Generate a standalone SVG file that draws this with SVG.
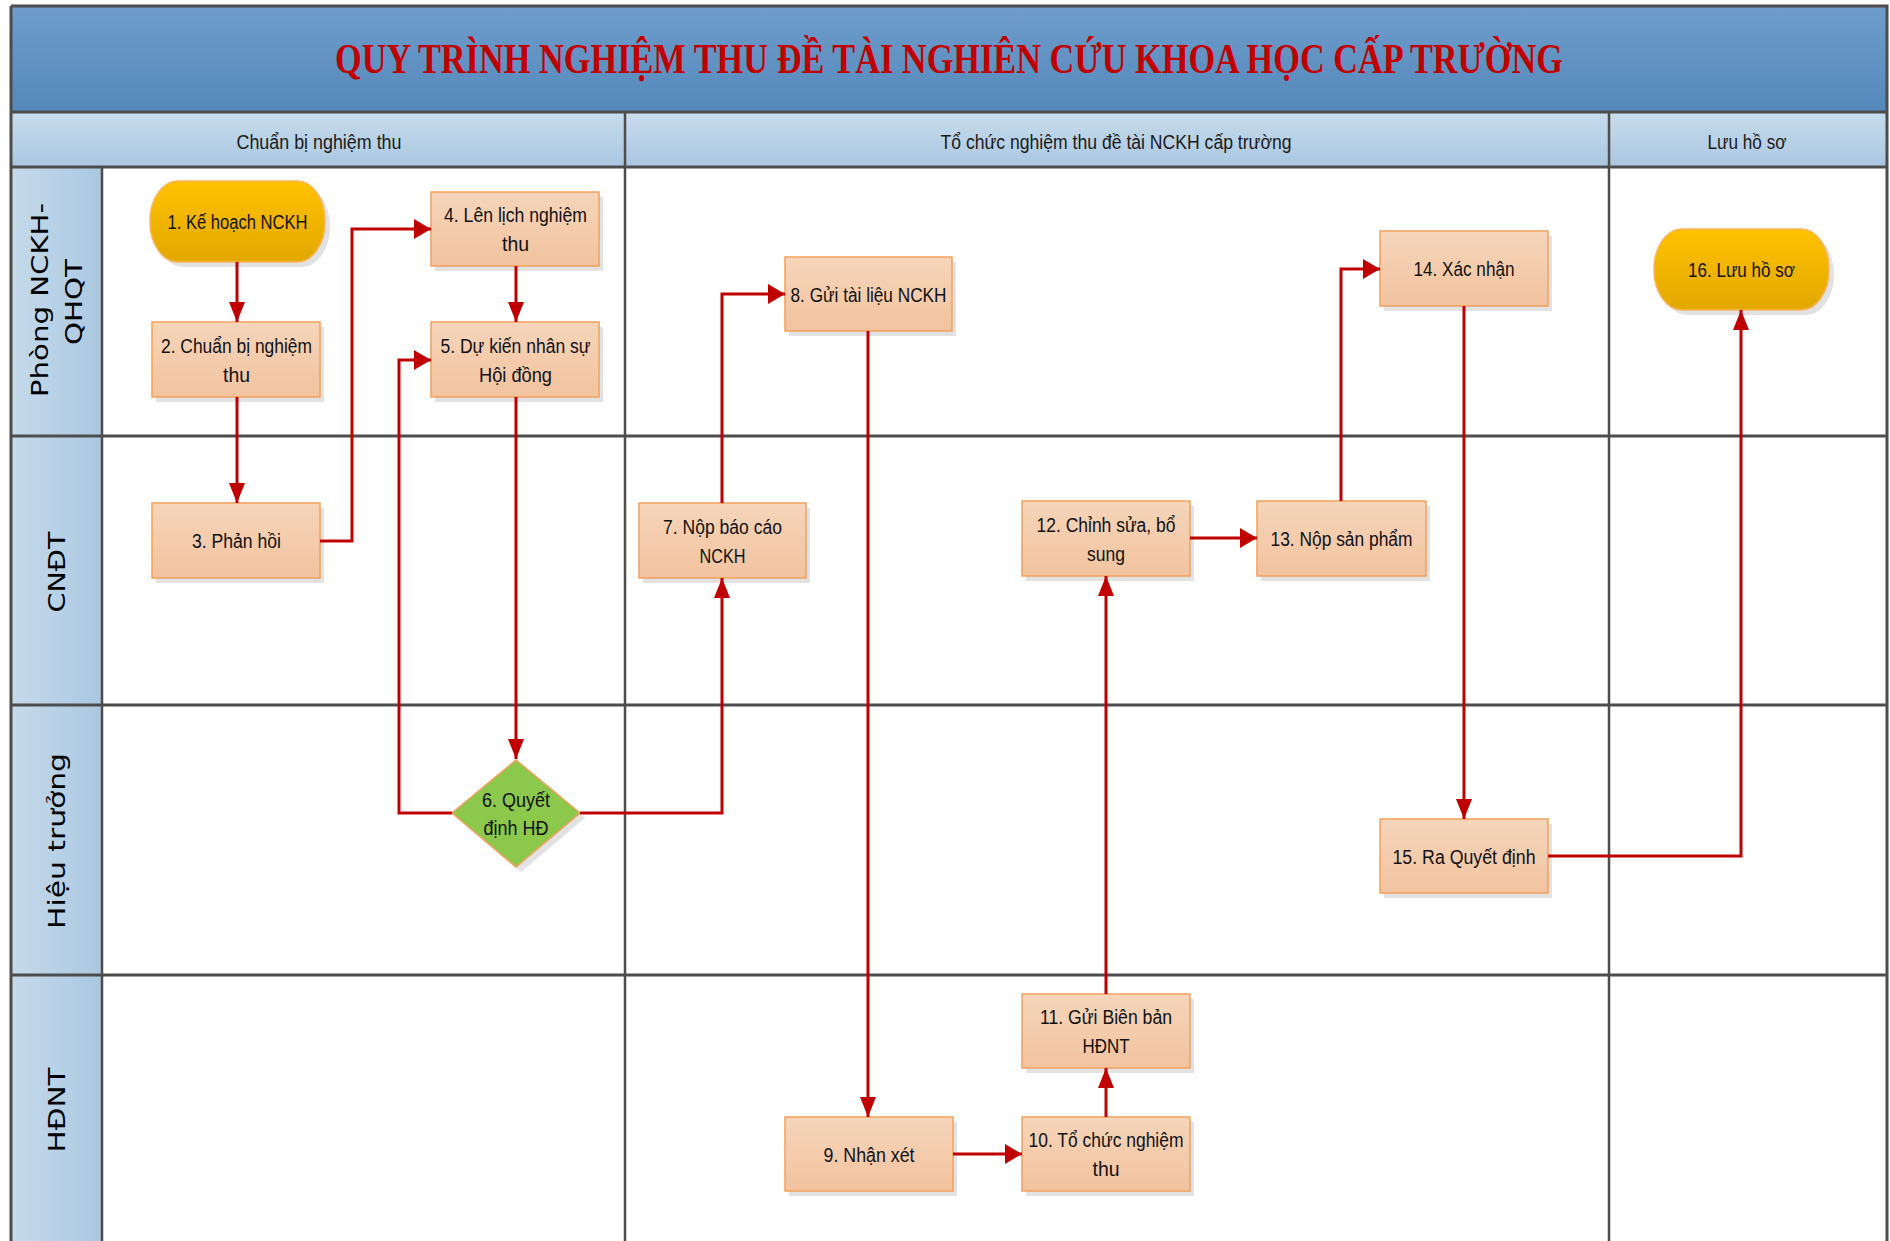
<svg xmlns="http://www.w3.org/2000/svg" width="1890" height="1241" viewBox="0 0 1890 1241">
<defs>
<linearGradient id="gTitle" x1="0" y1="0" x2="0" y2="1"><stop offset="0" stop-color="#6E9DCB"/><stop offset="1" stop-color="#5588BB"/></linearGradient>
<linearGradient id="gHead" x1="0" y1="0" x2="0" y2="1"><stop offset="0" stop-color="#C8DCEC"/><stop offset="1" stop-color="#AAC7E1"/></linearGradient>
<linearGradient id="gLane" x1="0" y1="0" x2="1" y2="0"><stop offset="0" stop-color="#C6DAEB"/><stop offset="1" stop-color="#ABC8E1"/></linearGradient>
<linearGradient id="gBox" x1="0" y1="0" x2="0" y2="1"><stop offset="0" stop-color="#F6D5BA"/><stop offset="1" stop-color="#F2C39F"/></linearGradient>
<linearGradient id="gTerm" x1="0" y1="0" x2="0" y2="1"><stop offset="0" stop-color="#FFC100"/><stop offset="1" stop-color="#E2A800"/></linearGradient>
<marker id="av" markerUnits="userSpaceOnUse" markerWidth="20" markerHeight="16" refX="20" refY="8" orient="auto"><path d="M0,0 L20,8 L0,16 Z" fill="#C00000"/></marker>
<marker id="ah" markerUnits="userSpaceOnUse" markerWidth="17" markerHeight="20" refX="17" refY="10" orient="auto"><path d="M0,0 L17,10 L0,20 Z" fill="#C00000"/></marker>
<style>
.grid{stroke:#4D4D4D;stroke-width:3;fill:none}
.gridv{stroke:#4D4D4D;stroke-width:2.5;fill:none}
.box{fill:url(#gBox);stroke:#F2A15C;stroke-width:1.5}
.term{fill:url(#gTerm);stroke:#F7B45A;stroke-width:1.5}
.dia{fill:#8CC84B;stroke:#F2A15C;stroke-width:1.5}
.sh{fill:#E2E2E2}
.t{font-family:"Liberation Sans",Arial,sans-serif;font-size:19.5px;fill:#111;text-anchor:middle}
.hd{font-family:"Liberation Sans",Arial,sans-serif;font-size:19.5px;fill:#1A1A1A;text-anchor:middle}
.ln{font-family:"DejaVu Sans",Verdana,sans-serif;font-size:23px;fill:#000;text-anchor:middle}
.title{font-family:"Liberation Serif","Times New Roman",serif;font-size:43px;font-weight:bold;fill:#C00000;text-anchor:middle}
.c{stroke:#C00000;stroke-width:3;fill:none}
</style>
</defs>
<rect x="0" y="0" width="1890" height="1241" fill="#FFFFFF"/>
<g id="frame">
<rect x="11" y="6" width="1876" height="106" fill="url(#gTitle)"/>
<rect x="11" y="112" width="1876" height="55" fill="url(#gHead)"/>
<rect x="11" y="167" width="91" height="1080" fill="url(#gLane)"/>
<text class="title" x="949" y="73" textLength="1228" lengthAdjust="spacingAndGlyphs">QUY TRÌNH NGHIỆM THU ĐỀ TÀI NGHIÊN CỨU KHOA HỌC CẤP TRƯỜNG</text>
<text class="hd" x="319" y="149" textLength="165" lengthAdjust="spacingAndGlyphs">Chuẩn bị nghiệm thu</text>
<text class="hd" x="1116" y="149" textLength="351" lengthAdjust="spacingAndGlyphs">Tổ chức nghiệm thu đề tài NCKH cấp trường</text>
<text class="hd" x="1747" y="149" textLength="79" lengthAdjust="spacingAndGlyphs">Lưu hồ sơ</text>
<path class="grid" d="M11,6 H1887 V1250 M11,6 V1250 M11,112 H1887 M11,167 H1887 M11,436 H1887 M11,705 H1887 M11,975 H1887"/>
<path class="gridv" d="M102,167 V1250 M625,112 V1250 M1609,112 V1250"/>
</g>
<g id="lane-phong">
<text class="ln" transform="translate(48,300) rotate(-90)" textLength="194" lengthAdjust="spacingAndGlyphs">Phòng NCKH-</text>
<text class="ln" transform="translate(82,302) rotate(-90)" textLength="86" lengthAdjust="spacingAndGlyphs">QHQT</text>
</g>
<g id="lane-cndt"><text class="ln" transform="translate(65,572) rotate(-90)" textLength="81" lengthAdjust="spacingAndGlyphs">CNĐT</text></g>
<g id="lane-hieutruong"><text class="ln" transform="translate(65,841) rotate(-90)" textLength="176" lengthAdjust="spacingAndGlyphs">Hiệu trưởng</text></g>
<g id="lane-hdnt"><text class="ln" transform="translate(65,1110) rotate(-90)" textLength="85" lengthAdjust="spacingAndGlyphs">HĐNT</text></g>

<g id="n1">
<rect class="sh" x="155" y="186" width="175" height="81" rx="28" ry="40"/>
<rect class="term" x="150" y="181" width="175" height="81" rx="28" ry="40"/>
<text class="t" x="237.5" y="229" textLength="140" lengthAdjust="spacingAndGlyphs">1. Kế hoạch NCKH</text>
</g>
<g id="n2">
<rect class="sh" x="156" y="327" width="168" height="75"/>
<rect class="box" x="152" y="322" width="168" height="75"/>
<text class="t" x="236.5" y="353" textLength="151" lengthAdjust="spacingAndGlyphs">2. Chuẩn bị nghiệm</text>
<text class="t" x="236.5" y="382" textLength="27" lengthAdjust="spacingAndGlyphs">thu</text>
</g>
<g id="n3">
<rect class="sh" x="156" y="508" width="168" height="75"/>
<rect class="box" x="152" y="503" width="168" height="75"/>
<text class="t" x="236.5" y="548" textLength="89" lengthAdjust="spacingAndGlyphs">3. Phản hồi</text>
</g>
<g id="n4">
<rect class="sh" x="435" y="197" width="168" height="74"/>
<rect class="box" x="431" y="192" width="168" height="74"/>
<text class="t" x="515.5" y="222" textLength="143" lengthAdjust="spacingAndGlyphs">4. Lên lịch nghiệm</text>
<text class="t" x="515.5" y="251" textLength="27" lengthAdjust="spacingAndGlyphs">thu</text>
</g>
<g id="n5">
<rect class="sh" x="435" y="327" width="168" height="75"/>
<rect class="box" x="431" y="322" width="168" height="75"/>
<text class="t" x="515.5" y="353" textLength="150" lengthAdjust="spacingAndGlyphs">5. Dự kiến nhân sự</text>
<text class="t" x="515.5" y="382" textLength="73" lengthAdjust="spacingAndGlyphs">Hội đồng</text>
</g>
<g id="n6">
<polygon class="sh" points="521,765 585,818 521,872 457,818"/>
<polygon class="dia" points="516,760 580,813 516,867 452,813"/>
<text class="t" x="516" y="807" textLength="68" lengthAdjust="spacingAndGlyphs">6. Quyết</text>
<text class="t" x="516" y="835" textLength="65" lengthAdjust="spacingAndGlyphs">định HĐ</text>
</g>
<g id="n7">
<rect class="sh" x="643" y="508" width="167" height="75"/>
<rect class="box" x="639" y="503" width="167" height="75"/>
<text class="t" x="722.5" y="534" textLength="119" lengthAdjust="spacingAndGlyphs">7. Nộp báo cáo</text>
<text class="t" x="722.5" y="563" textLength="46" lengthAdjust="spacingAndGlyphs">NCKH</text>
</g>
<g id="n8">
<rect class="sh" x="789" y="262" width="167" height="74"/>
<rect class="box" x="785" y="257" width="167" height="74"/>
<text class="t" x="868.5" y="301.5" textLength="156" lengthAdjust="spacingAndGlyphs">8. Gửi tài liệu NCKH</text>
</g>
<g id="n9">
<rect class="sh" x="789" y="1122" width="168" height="74"/>
<rect class="box" x="785" y="1117" width="168" height="74"/>
<text class="t" x="869" y="1161.5" textLength="91" lengthAdjust="spacingAndGlyphs">9. Nhận xét</text>
</g>
<g id="n10">
<rect class="sh" x="1026" y="1122" width="168" height="74"/>
<rect class="box" x="1022" y="1117" width="168" height="74"/>
<text class="t" x="1106" y="1147" textLength="155" lengthAdjust="spacingAndGlyphs">10. Tổ chức nghiệm</text>
<text class="t" x="1106" y="1176" textLength="27" lengthAdjust="spacingAndGlyphs">thu</text>
</g>
<g id="n11">
<rect class="sh" x="1026" y="999" width="168" height="74"/>
<rect class="box" x="1022" y="994" width="168" height="74"/>
<text class="t" x="1106" y="1024" textLength="132" lengthAdjust="spacingAndGlyphs">11. Gửi Biên bản</text>
<text class="t" x="1106" y="1053" textLength="47" lengthAdjust="spacingAndGlyphs">HĐNT</text>
</g>
<g id="n12">
<rect class="sh" x="1026" y="506" width="168" height="75"/>
<rect class="box" x="1022" y="501" width="168" height="75"/>
<text class="t" x="1106" y="532" textLength="139" lengthAdjust="spacingAndGlyphs">12. Chỉnh sửa, bổ</text>
<text class="t" x="1106" y="561" textLength="38" lengthAdjust="spacingAndGlyphs">sung</text>
</g>
<g id="n13">
<rect class="sh" x="1261" y="506" width="169" height="75"/>
<rect class="box" x="1257" y="501" width="169" height="75"/>
<text class="t" x="1341.5" y="546" textLength="142" lengthAdjust="spacingAndGlyphs">13. Nộp sản phẩm</text>
</g>
<g id="n14">
<rect class="sh" x="1384" y="236" width="168" height="75"/>
<rect class="box" x="1380" y="231" width="168" height="75"/>
<text class="t" x="1464" y="276" textLength="101" lengthAdjust="spacingAndGlyphs">14. Xác nhận</text>
</g>
<g id="n15">
<rect class="sh" x="1384" y="824" width="168" height="74"/>
<rect class="box" x="1380" y="819" width="168" height="74"/>
<text class="t" x="1464" y="863.5" textLength="143" lengthAdjust="spacingAndGlyphs">15. Ra Quyết định</text>
</g>
<g id="n16">
<rect class="sh" x="1659" y="234" width="175" height="81" rx="28" ry="40"/>
<rect class="term" x="1654" y="229" width="175" height="81" rx="28" ry="40"/>
<text class="t" x="1741.5" y="277" textLength="107" lengthAdjust="spacingAndGlyphs">16. Lưu hồ sơ</text>
</g>

<g id="connectors">
<path class="c" d="M237,262 V322" marker-end="url(#av)"/>
<path class="c" d="M237,397 V503" marker-end="url(#av)"/>
<path class="c" d="M320,541 H352 V229 H431" marker-end="url(#ah)"/>
<path class="c" d="M516,266 V322" marker-end="url(#av)"/>
<path class="c" d="M516,397 V759" marker-end="url(#av)"/>
<path class="c" d="M452,813 H399 V360 H431" marker-end="url(#ah)"/>
<path class="c" d="M580,813 H722 V578" marker-end="url(#av)"/>
<path class="c" d="M722,503 V294 H785" marker-end="url(#ah)"/>
<path class="c" d="M868,331 V1117" marker-end="url(#av)"/>
<path class="c" d="M953,1154 H1022" marker-end="url(#ah)"/>
<path class="c" d="M1106,1117 V1068" marker-end="url(#av)"/>
<path class="c" d="M1106,994 V576" marker-end="url(#av)"/>
<path class="c" d="M1190,538 H1257" marker-end="url(#ah)"/>
<path class="c" d="M1341,501 V269 H1380" marker-end="url(#ah)"/>
<path class="c" d="M1464,306 V819" marker-end="url(#av)"/>
<path class="c" d="M1548,856 H1741 V310" marker-end="url(#av)"/>
</g>
</svg>
